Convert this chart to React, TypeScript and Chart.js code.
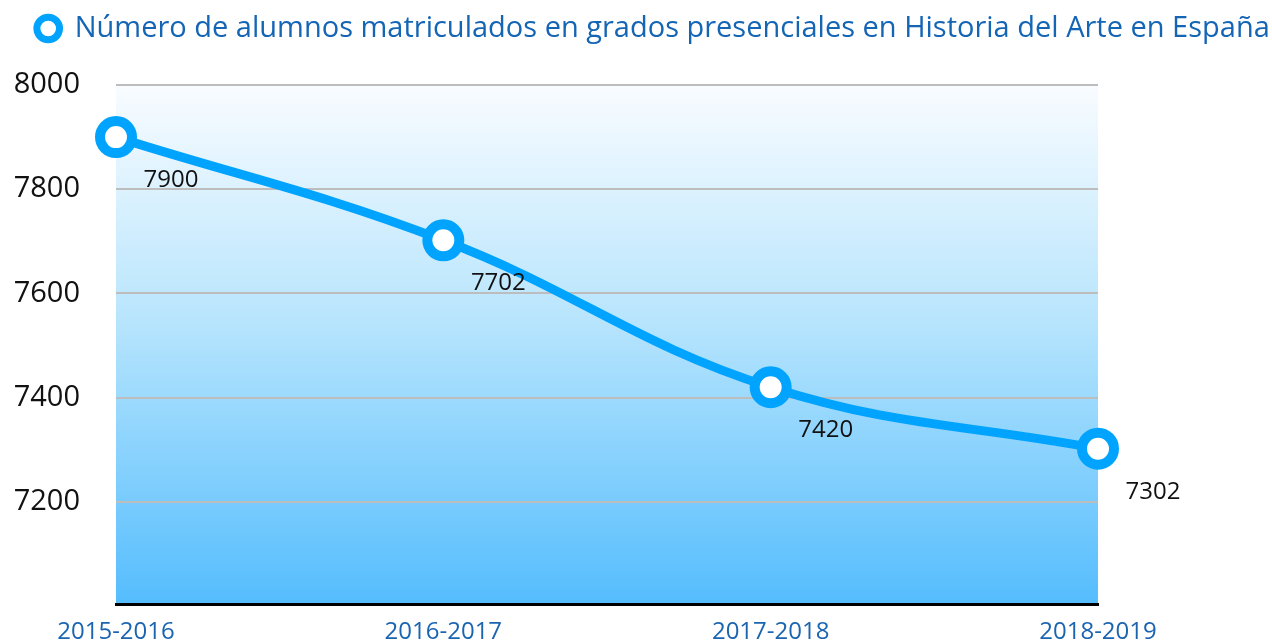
import React, { useEffect, useRef } from "react";
import { Chart, registerables } from "chart.js";

Chart.register(...registerables);

const categories = ["2015-2016", "2016-2017", "2017-2018", "2018-2019"];
const values = [7900, 7702, 7420, 7302];
const seriesLabel = "Número de alumnos matriculados en grados presenciales en Historia del Arte en España";
const yMin = 7004;
const yMax = 8000;
const yTicks = [7200, 7400, 7600, 7800, 8000];

const FONT = "'Open Sans', 'Noto Sans', sans-serif";
const LINE_COLOR = "#00a3fe";

const bgPlugin = {
  id: "areaBg",
  beforeInit(chart: any) {
    const lg = chart.legend;
    if (lg && !lg.__patched) {
      const origFit = lg.fit.bind(lg);
      lg.fit = function () {
        origFit();
        this.height = 85;
      };
      const origDraw = lg.draw.bind(lg);
      lg.draw = function () {
        const c = this.ctx;
        c.save();
        c.translate(17, 4);
        origDraw();
        c.restore();
      };
      lg.__patched = true;
    }
  },
  beforeDraw(chart: any) {
    const { ctx, chartArea } = chart;
    if (!chartArea) return;
    const g = ctx.createLinearGradient(0, chartArea.top, 0, chartArea.bottom);
    g.addColorStop(0, "#f9fcff");
    g.addColorStop(0.45, "#b8e5fd");
    g.addColorStop(1, "#55bdfd");
    ctx.save();
    ctx.fillStyle = g;
    ctx.fillRect(chartArea.left, chartArea.top, chartArea.right - chartArea.left, chartArea.bottom - chartArea.top);
    ctx.restore();
  },
};

const labelPlugin = {
  id: "valueLabels",
  afterDatasetsDraw(chart: any) {
    const { ctx } = chart;
    const meta = chart.getDatasetMeta(0);
    const data = chart.data.datasets[0].data;
    ctx.save();
    ctx.font = `24px ${FONT}`;
    ctx.fillStyle = "#111";
    ctx.textAlign = "center";
    ctx.textBaseline = "middle";
    meta.data.forEach((pt: any, i: number) => {
      ctx.fillText(String(data[i]), pt.x + 55, pt.y + 43);
    });
    ctx.restore();
  },
};

export default function App() {
  const ref = useRef<HTMLCanvasElement>(null);
  useEffect(() => {
    if (!ref.current) return;
    const chart = new Chart(ref.current, {
      type: "line",
      data: {
        labels: categories,
        datasets: [
          {
            label: seriesLabel,
            data: values,
            borderColor: LINE_COLOR,
            backgroundColor: "#ffffff",
            borderWidth: 9,
            tension: 0.4,
            pointRadius: 16,
            pointBorderWidth: 10,
            pointBackgroundColor: "#ffffff",
            pointBorderColor: LINE_COLOR,
            clip: false as any,
          },
        ],
      },
      options: {
        animation: false,
        responsive: false,
        layout: { padding: 0 },
        plugins: {
          legend: {
            display: true,
            position: "top",
            labels: {
              usePointStyle: true,
              pointStyle: "circle",
              boxWidth: 24,
              boxHeight: 16,
              color: "#1565b5",
              font: { family: FONT, size: 29 },
              padding: 10,
              generateLabels() {
                return [
                  {
                    text: seriesLabel,
                    fillStyle: "#ffffff",
                    strokeStyle: LINE_COLOR,
                    lineWidth: 7,
                    pointStyle: "circle",
                    fontColor: "#1565b5",
                    datasetIndex: 0,
                    hidden: false,
                  } as any,
                ];
              },
            },
          },
          tooltip: { enabled: false },
        },
        scales: {
          x: {
            offset: false,
            grid: { display: false, drawTicks: false },
            border: { display: true, color: "#000", width: 3 },
            ticks: {
              color: "#1a64b0",
              font: { family: FONT, size: 24 },
              padding: 14,
              maxRotation: 0,
            },
            afterFit(scale: any) {
              scale.height = 40;
            },
          },
          y: {
            min: yMin,
            max: yMax,
            grid: { color: "#bdbdbd", lineWidth: 2, drawTicks: false },
            border: { display: false },
            ticks: {
              color: "#111",
              font: { family: FONT, size: 29 },
              padding: 36,
              callback: (v: any) => String(v),
            },
            afterBuildTicks(scale: any) {
              scale.ticks = yTicks.map((v) => ({ value: v }));
            },
            afterFit(scale: any) {
              scale.width = 116;
              scale.paddingTop = 0;
              scale.paddingBottom = 0;
            },
          },
          yRight: {
            position: "right",
            min: yMin,
            max: yMax,
            grid: { display: false, drawTicks: false },
            border: { display: false },
            ticks: { display: false },
            afterFit(scale: any) {
              scale.width = 174;
              scale.paddingTop = 0;
              scale.paddingBottom = 0;
            },
          },
        },
      },
      plugins: [bgPlugin, labelPlugin],
    });
    return () => chart.destroy();
  }, []);
  return (
    <div style={{ position: "absolute", left: 0, top: 0, width: 1272, height: 644, background: "#fff" }}>
      <canvas ref={ref} width={1272} height={644} style={{ display: "block" }} />
    </div>
  );
}
